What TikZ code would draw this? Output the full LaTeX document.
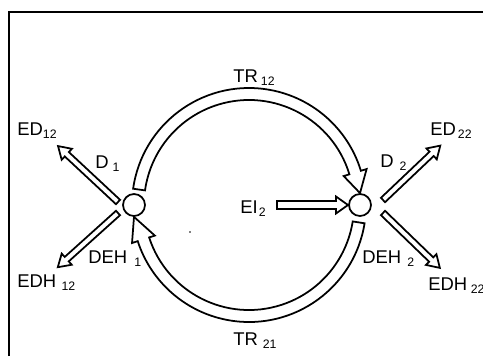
\documentclass[tikz,border=0pt]{standalone}
\usepackage{fontspec}
\newfontfamily\plotfont{Liberation Sans}
\usetikzlibrary{calc}
\newcommand{\sublbl}[2][1.5pt]{\kern#1\raisebox{-2pt}{\fontsize{7}{8}\selectfont #2}}

\begin{document}
\begin{tikzpicture}[
  x=0.02cm, y=0.02cm,
  every node/.style={font=\plotfont\fontsize{10.5}{12}\selectfont},
  site/.style={draw, circle, line width=1pt, minimum size=0.44cm, inner sep=0pt},
  band/.style={draw, line width=1pt, line join=miter},
  lbl/.style={anchor=base west, inner sep=0pt},
  frame/.style={line width=1.2pt},
  pics/hollow/.style args={#1/#2/#3}{code={
    \draw[band] (0,-#2) -- ({#1-12},-#2) -- ({#1-12},-#3) -- (#1,0) -- ({#1-12},#3) -- ({#1-12},#2) -- (0,#2) -- cycle;}}
]
  \useasboundingbox (0,0) rectangle (483,356);
  \draw[frame] (9,0) -- (9,344) -- (483,344);

  % Regioni
  \node[site] (n1) at (134,151) {};
  \node[site] (n2) at (360,151) {};
  \coordinate (c) at (249,151);
  \fill (190,124) circle[radius=0.8];

  % Trasferimenti
  \draw[band] ($(c)+(172:117)$) arc[start angle=172, end angle=17, radius=117]
    -- ($(c)+(17:123)$) -- (n2.north) -- ($(c)+(17:99)$) -- ($(c)+(17:105)$)
    arc[start angle=17, end angle=172, radius=105] -- cycle;
  \draw[band] ($(c)+(-9:117)$) arc[start angle=-9, end angle=-162, radius=117]
    -- ($(c)+(-162:123)$) -- (n1.south) -- ($(c)+(-162:99)$) -- ($(c)+(-162:105)$)
    arc[start angle=-162, end angle=-9, radius=105] -- cycle;

  % Uscite
  \coordinate (d1) at (118,154);
  \coordinate (deh1) at (118,143);
  \coordinate (d2) at (383,156);
  \coordinate (deh2) at (383,143);
  \coordinate (ei) at (277,151);
  \pic[rotate=137] at (d1) {hollow=82/3/7.5};
  \pic[rotate=222] at (deh1) {hollow=81/3/7.5};
  \pic[rotate=43.5] at (d2) {hollow=79/3/7.5};
  \pic[rotate=-44] at (deh2) {hollow=79/3/7.5};
  \pic at (ei) {hollow=71/4/8.5};

  % Etichette
  \node[lbl] (ed12) at (17,221) {ED\sublbl[0pt]{12}};
  \node[lbl] (edh12) at (17,69) {EDH\sublbl[3pt]{12}};
  \node[lbl] (d1l) at (95,188) {D\sublbl[2.3pt]{1}};
  \node[lbl] (deh1l) at (88,93) {DEH\sublbl[4pt]{1}};
  \node[lbl] (tr12) at (233,274) {TR\sublbl[1.7pt]{12}};
  \node[lbl] (tr21) at (233,11) {TR\sublbl[2.8pt]{21}};
  \node[lbl] (ei2) at (240,143) {EI\sublbl[0.6pt]{2}};
  \node[lbl] (d2l) at (380,189) {D\sublbl[3.4pt]{2}};
  \node[lbl] (ed22) at (430,221) {ED\sublbl[1.1pt]{22}};
  \node[lbl] (deh2l) at (362,93) {DEH\sublbl[3.5pt]{2}};
  \node[lbl] (edh22) at (428,66) {EDH\sublbl[2pt]{22}};
\end{tikzpicture}
\end{document}
